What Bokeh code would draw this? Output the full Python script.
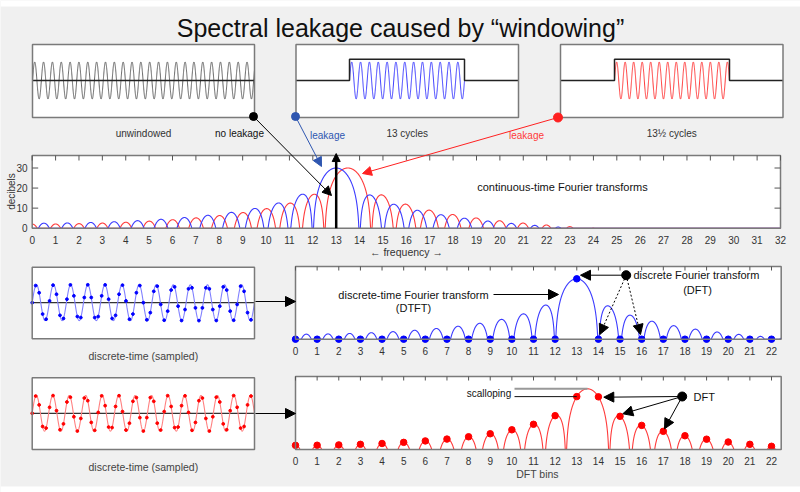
import numpy as np
from bokeh.plotting import figure
from bokeh.models import Range1d, Arrow, NormalHead
from bokeh.core.properties import value
from bokeh.embed import file_html
from bokeh.resources import INLINE

# ---------------- data ----------------
TITLE = "Spectral leakage caused by \u201cwindowing\u201d"
top_labels = ["unwindowed", "13 cycles", "13\u00bd cycles"]
tone_cycles = [13.0, 13.5]          # blue tone, red tone (cycles per window)
n_samples = 64                       # samples in the window
peak_db = 30                         # level of the main lobe
freq_ticks = list(range(0, 33))      # frequency axis of the upper spectrum
db_ticks = [0, 10, 20, 30]
dft_bins = list(range(0, 23))
window_level = [1.15]

BLUE = "#3b3bff"
BLUE_L = "#8080ff"
BLUE_D = "#0000ff"
BLUE_ANN = "#2e56b0"
RED = "#ff3b3b"
RED_D = "#ff0000"
FONT = value("Liberation Sans")

# canvas: 1:1 with the reference picture
CX0, CX1, CY_BOT, CY_TOP = 0, 800, 492, 0

p = figure(width=800, height=492, output_backend="svg", toolbar_location=None,
           x_range=Range1d(CX0, CX1), y_range=Range1d(CY_BOT, CY_TOP),
           x_axis_location=None, y_axis_location=None, min_border=0)
p.grid.visible = False
p.outline_line_color = None
p.background_fill_color = "#f0f0f0"
p.border_fill_color = "#f0f0f0"


def lin(d0, d1, c0, c1):
    k = (d1 - d0) / (c1 - c0)
    return lambda c: d0 + (c - c0) * k


def xr(d0, d1, c0, c1):
    f = lin(d0, d1, c0, c1)
    return Range1d(start=f(CX0), end=f(CX1))


def yr(d0, d1, c0, c1):
    f = lin(d0, d1, c0, c1)
    return Range1d(start=f(CY_BOT), end=f(CY_TOP))


# white strips at top and bottom of the page
p.quad(left=[0], right=[800], top=[0], bottom=[6], fill_color="white", line_color=None)
p.quad(left=[0], right=[800], top=[486], bottom=[492], fill_color="white", line_color=None)

# panel boxes (left, right, top, bottom) in canvas pixels
TOPB = [(32, 254, 44, 117), (295.5, 518, 44, 117), (560, 782.5, 44, 117)]
CTB = (31.7, 780, 155, 227.7)
DTB = [(31.7, 254, 266.7, 338.3), (31.7, 254, 377.3, 449)]
FTB = [(295, 780.7, 266, 338.7), (295, 780.7, 376, 449)]

p.extra_x_ranges = {
    "t1": xr(0, 1, 32, 147),
    "t2": xr(0, 1, 349, 464),
    "t3": xr(0, 1, 614, 729),
    "ctx": xr(0, 32, CTB[0], CTB[1]),
    "dtx": xr(0, 1, DTB[0][0], DTB[0][1]),
    "bins": xr(0, 22, 295, 771),
}
p.extra_y_ranges = {
    "amp_top": yr(0, 1, 80, 61.5),
    "ct_db": yr(0, 30, 227.7, 167.5),
    "amp_mid": yr(0, 1, 302.2, 284.3),
    "amp_bot": yr(0, 1, 412.8, 395),
    "db_mid": yr(0, 30, 338.7, 278.3),
    "db_bot": yr(0, 30, 449, 388.3),
}
t1_of = lin(0, 1, 32, 147)
t2_of = lin(0, 1, 349, 464)
t3_of = lin(0, 1, 614, 729)
bin_of = lin(0, 22, 295, 771)


def txt(x, y, s, size="10px", color="#333333", align="center", baseline="middle",
        angle=0.0, xn="default", yn="default"):
    p.text(x=[x], y=[y], text=[s], text_font=FONT, text_font_size=value(size),
           text_color=color, text_align=align, text_baseline=baseline, angle=angle,
           x_range_name=xn, y_range_name=yn)


def arrow(x0, y0, x1, y1, color="black", lw=1.0, size=9, dash="solid", xn="default", yn="default"):
    p.add_layout(Arrow(end=NormalHead(size=size, fill_color=color, line_color=color, line_width=1),
                       x_start=x0, y_start=y0, x_end=x1, y_end=y1, line_color=color,
                       line_width=lw, line_dash=dash, x_range_name=xn, y_range_name=yn))


def box_fill(b):
    p.quad(left=[b[0]], right=[b[1]], top=[b[2]], bottom=[b[3]], fill_color="white", line_color=None)


def box_line(b):
    p.quad(left=[b[0]], right=[b[1]], top=[b[2]], bottom=[b[3]], fill_color=None,
           line_color="#7a7a7a", line_width=1.5)


nn = np.arange(n_samples)


def dtft_db(f0, fr):
    """Spectrum (dB, clipped at 0) of the n_samples-point windowed tone."""
    x = np.sin(2 * np.pi * f0 * nn / n_samples)
    X = np.exp(-2j * np.pi * np.outer(fr, nn) / n_samples) @ x
    return np.clip(20 * np.log10(np.maximum(np.abs(X), 1e-12) / (n_samples / 2)) + peak_db, 0, None)


# ---------------- title ----------------
txt(400, 27, TITLE, size="25px", color="#111111", baseline="alphabetic")

# ---------------- top row: time signals ----------------
for b in TOPB:
    box_fill(b)
t_end1 = t1_of(TOPB[0][1])
t = np.linspace(0, t_end1, 3000)
p.line(t, np.sin(2 * np.pi * tone_cycles[0] * t), x_range_name="t1", y_range_name="amp_top",
       line_color="#606060", line_width=1)
p.line([0, t_end1], [0, 0], x_range_name="t1", y_range_name="amp_top", line_color="#222222", line_width=1.5)
for name, f_of, b, cyc, col in [("t2", t2_of, TOPB[1], tone_cycles[0], BLUE),
                                ("t3", t3_of, TOPB[2], tone_cycles[1], RED)]:
    tw = np.linspace(0, 1, 1500)
    p.line(tw, np.sin(2 * np.pi * cyc * tw), x_range_name=name, y_range_name="amp_top",
           line_color=col, line_width=1)
    wl = window_level[0]
    p.line([f_of(b[0]), 0, 0, 1, 1, f_of(b[1])], [0, 0, wl, wl, 0, 0], x_range_name=name,
           y_range_name="amp_top", line_color="#222222", line_width=1.5)
for b in TOPB:
    box_line(b)
for b, s in zip(TOPB, top_labels):
    txt((b[0] + b[1]) / 2, 133, s, size="10px", color="#333333")

txt(239, 133, "no leakage", size="10px", color="#111111")
txt(327, 135, "leakage", size="10px", color=BLUE_ANN)
txt(526, 135, "leakage", size="10px", color=RED)

# ---------------- upper spectrum panel ----------------
box_fill(CTB)
fgrid = np.linspace(0, 32, 4001)
p.line(fgrid, dtft_db(tone_cycles[1], fgrid), x_range_name="ctx", y_range_name="ct_db",
       line_color=RED, line_width=1.1)
p.line(fgrid, dtft_db(tone_cycles[0], fgrid), x_range_name="ctx", y_range_name="ct_db",
       line_color=BLUE, line_width=1.1)
box_line(CTB)
nt = len(freq_ticks)
p.segment(x0=freq_ticks, y0=[CTB[2]] * nt, x1=freq_ticks, y1=[CTB[2] + 5] * nt, x_range_name="ctx",
          line_color="#555555", line_width=1)
yt = db_ticks[1:]
p.segment(x0=[CTB[0]] * len(yt), y0=yt, x1=[CTB[0] + 6] * len(yt), y1=yt, y_range_name="ct_db",
          line_color="#555555", line_width=1)
p.segment(x0=[CTB[1]] * len(yt), y0=yt, x1=[CTB[1] - 6] * len(yt), y1=yt, y_range_name="ct_db",
          line_color="#555555", line_width=1)
p.text(x=freq_ticks, y=[239] * nt, text=[str(v) for v in freq_ticks], x_range_name="ctx",
       text_font=FONT, text_font_size=value("10px"), text_color="#333333", text_align="center",
       text_baseline="middle")
p.text(x=[27] * len(db_ticks), y=db_ticks, text=[str(v) for v in db_ticks], y_range_name="ct_db",
       text_font=FONT, text_font_size=value("10px"), text_color="#333333", text_align="right",
       text_baseline="middle")
txt(11, 191, "decibels", size="10px", color="#333333", angle=np.pi / 2)
txt(406, 251, "\u2190 frequency \u2192", size="10.5px", color="#333333")
txt(562, 186, "continuous-time Fourier transforms", size="11px", color="#111111")
arrow(tone_cycles[0], 0, tone_cycles[0], 37.2, color="black", lw=2.5, size=8, xn="ctx", yn="ct_db")

p.scatter([253], [116], size=8, color="black")
p.scatter([295], [116], size=8, color=BLUE_ANN)
p.scatter([557.5], [117], size=9, color="#ff2020")
arrow(253, 116, 331, 195, color="black", lw=1, size=9)
arrow(295, 116, 321, 166, color=BLUE_ANN, lw=1, size=9)
arrow(557.5, 117, 362, 173, color="#ff2020", lw=1, size=9)

# ---------------- discrete-time panels ----------------
tc = np.linspace(0, 1, 2000)
for b, cyc, yname, cl, cd in [(DTB[0], tone_cycles[0], "amp_mid", BLUE_L, BLUE_D),
                              (DTB[1], tone_cycles[1], "amp_bot", "#ff8080", RED_D)]:
    box_fill(b)
    p.line([0, 1], [0, 0], x_range_name="dtx", y_range_name=yname, line_color="#333333", line_width=1.2)
    p.line(tc, np.sin(2 * np.pi * cyc * tc), x_range_name="dtx", y_range_name=yname,
           line_color=cl, line_width=1.1)
    p.scatter(nn / n_samples, np.sin(2 * np.pi * cyc * nn / n_samples), x_range_name="dtx",
              y_range_name=yname, size=2.8, color=cd)
    box_line(b)
    txt((b[0] + b[1]) / 2, b[3] + 17, "discrete-time (sampled)", size="10.5px", color="#444444")

arrow(255, 301, 295, 301, color="black", lw=1, size=10)
arrow(255, 413, 295, 413, color="black", lw=1, size=10)

# ---------------- DTFT / DFT panels ----------------
bgrid = np.linspace(0, bin_of(FTB[0][1]), 4000)
nb = len(dft_bins)
for b, cyc, yname, cl, cd in [(FTB[0], tone_cycles[0], "db_mid", BLUE, BLUE_D),
                              (FTB[1], tone_cycles[1], "db_bot", RED, RED_D)]:
    box_fill(b)
    p.line(bgrid, dtft_db(cyc, bgrid), x_range_name="bins", y_range_name=yname, line_color=cl, line_width=1.1)
    p.scatter(dft_bins, dtft_db(cyc, np.array(dft_bins, dtype=float)), x_range_name="bins",
              y_range_name=yname, size=6.5, color=cd)
    box_line(b)
    p.segment(x0=dft_bins, y0=[b[2]] * nb, x1=dft_bins, y1=[b[2] + 4] * nb, x_range_name="bins",
              line_color="#555555", line_width=1)
    p.text(x=dft_bins, y=[b[3] + 11.5] * nb, text=[str(v) for v in dft_bins], x_range_name="bins",
           text_font=FONT, text_font_size=value("10px"), text_color="#333333", text_align="center",
           text_baseline="middle")

txt(537, 473, "DFT bins", size="10.5px", color="#444444")

txt(413, 294, "discrete-time Fourier transform", size="11px", color="#111111")
txt(413, 307, "(DTFT)", size="11px", color="#111111")
arrow(493, 294, 558, 294, color="black", lw=1, size=10)
p.scatter([625.7], [274.7], size=9, color="black")
txt(633, 274.7, "discrete Fourier transform", size="11px", color="#111111", align="left")
txt(697, 289.3, "(DFT)", size="11px", color="#111111")
arrow(625.7, 274.7, 580, 274.7, color="black", lw=1, size=10)
arrow(625.7, 274.7, 599.3, 334, color="black", lw=1, size=10, dash="2 2")
arrow(625.7, 274.7, 640, 334, color="black", lw=1, size=10, dash="2 2")

txt(510.7, 392.7, "scalloping", size="10px", color="#111111", align="right")
x_s = bin_of(514)
red_dft = dtft_db(tone_cycles[1], np.array(dft_bins, dtype=float))
p.line([x_s, tone_cycles[1]], [peak_db, peak_db], x_range_name="bins", y_range_name="db_bot",
       line_color="#999999", line_width=2)
p.line([x_s, 13], [red_dft[13], red_dft[13]], x_range_name="bins", y_range_name="db_bot",
       line_color="#111111", line_width=1)
p.scatter([681.7], [396], size=9, color="black")
txt(693, 396, "DFT", size="11px", color="#111111", align="left")
arrow(681.7, 396, 603.3, 396.7, color="black", lw=1, size=10)
arrow(681.7, 396, 622.3, 413.3, color="black", lw=1, size=10)
arrow(681.7, 396, 664, 428.3, color="black", lw=1, size=10)

open("out.html", "w").write(file_html(p, INLINE))
